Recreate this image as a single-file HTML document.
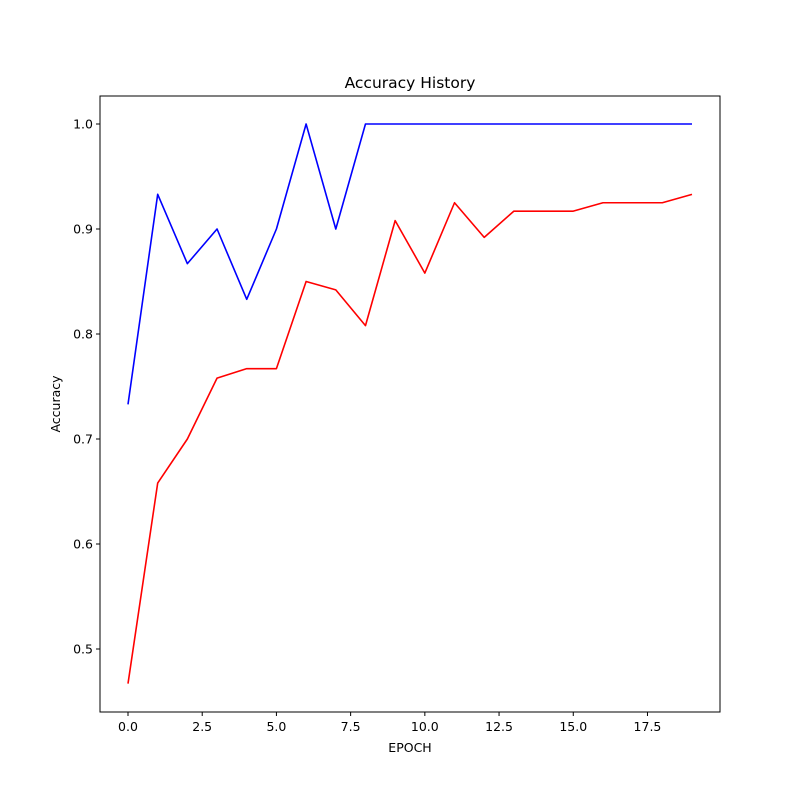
<!DOCTYPE html>
<html><head><meta charset="utf-8"><style>
body{margin:0;background:#fff}
svg text{font-family:"DejaVu Sans","Liberation Sans",sans-serif;fill:#000}
</style></head><body>
<svg id="chart" width="800" height="800">
<rect width="800" height="800" fill="#fff"/>
</svg>
<script>
const epochs=[0,1,2,3,4,5,6,7,8,9,10,11,12,13,14,15,16,17,18,19];
const seriesBlue=[0.733,0.933,0.867,0.9,0.833,0.9,1.0,0.9,1.0,1.0,1.0,1.0,1.0,1.0,1.0,1.0,1.0,1.0,1.0,1.0];
const seriesRed=[0.467,0.658,0.7,0.758,0.767,0.767,0.85,0.842,0.808,0.908,0.858,0.925,0.892,0.917,0.917,0.917,0.925,0.925,0.925,0.933];
const xTicks=[0,2.5,5,7.5,10,12.5,15,17.5];
const xTickLabels=["0.0","2.5","5.0","7.5","10.0","12.5","15.0","17.5"];
const yTicks=[0.5,0.6,0.7,0.8,0.9,1.0];
const yTickLabels=["0.5","0.6","0.7","0.8","0.9","1.0"];

const L=100,R=720,T=96,B=712;
const xs=v=>128+v*(564/19);
const ys=v=>124+(1.0-v)*1050;
const svg=document.getElementById('chart');
const NS='http://www.w3.org/2000/svg';
function mk(t,a){const e=document.createElementNS(NS,t);for(const k in a)e.setAttribute(k,a[k]);svg.appendChild(e);return e;}

const title=mk('text',{x:410,y:88,'text-anchor':'middle','font-size':'15.5'});title.textContent='Accuracy History';



xTicks.forEach((v,i)=>{
  const x=xs(v);
  const t=mk('line',{x1:x,x2:x,y1:B,y2:B+4,stroke:'#000','stroke-width':1});
  
  
  const l=mk('text',{x:x,y:B+19,'text-anchor':'middle','font-size':'12.5'});l.textContent=xTickLabels[i];
  
  
});
yTicks.forEach((v,i)=>{
  const y=ys(v);
  const t=mk('line',{x1:L-4,x2:L,y1:y,y2:y,stroke:'#000','stroke-width':1});
  
  
  const l=mk('text',{x:L-7,y:y+4.5,'text-anchor':'end','font-size':'12.5'});l.textContent=yTickLabels[i];
  
  
});

function line(vals,color,name){
  const p=mk('polyline',{points:vals.map((v,i)=>xs(epochs[i])+','+ys(v)).join(' '),fill:'none',stroke:color,'stroke-width':1.6,'stroke-linejoin':'round'});
  
  
}
line(seriesBlue,'#0000ff','blue-accuracy-line');
line(seriesRed,'#ff0000','red-accuracy-line');

const frame=mk('rect',{x:L,y:T,width:R-L,height:B-T,fill:'none',stroke:'#000','stroke-width':1});



const xl=mk('text',{x:410,y:752,'text-anchor':'middle','font-size':'12.5'});xl.textContent='EPOCH';


const yl=mk('text',{x:60,y:404,'text-anchor':'middle','font-size':'12.5',transform:'rotate(-90 60 404)'});yl.textContent='Accuracy';


</script>
</body></html>
